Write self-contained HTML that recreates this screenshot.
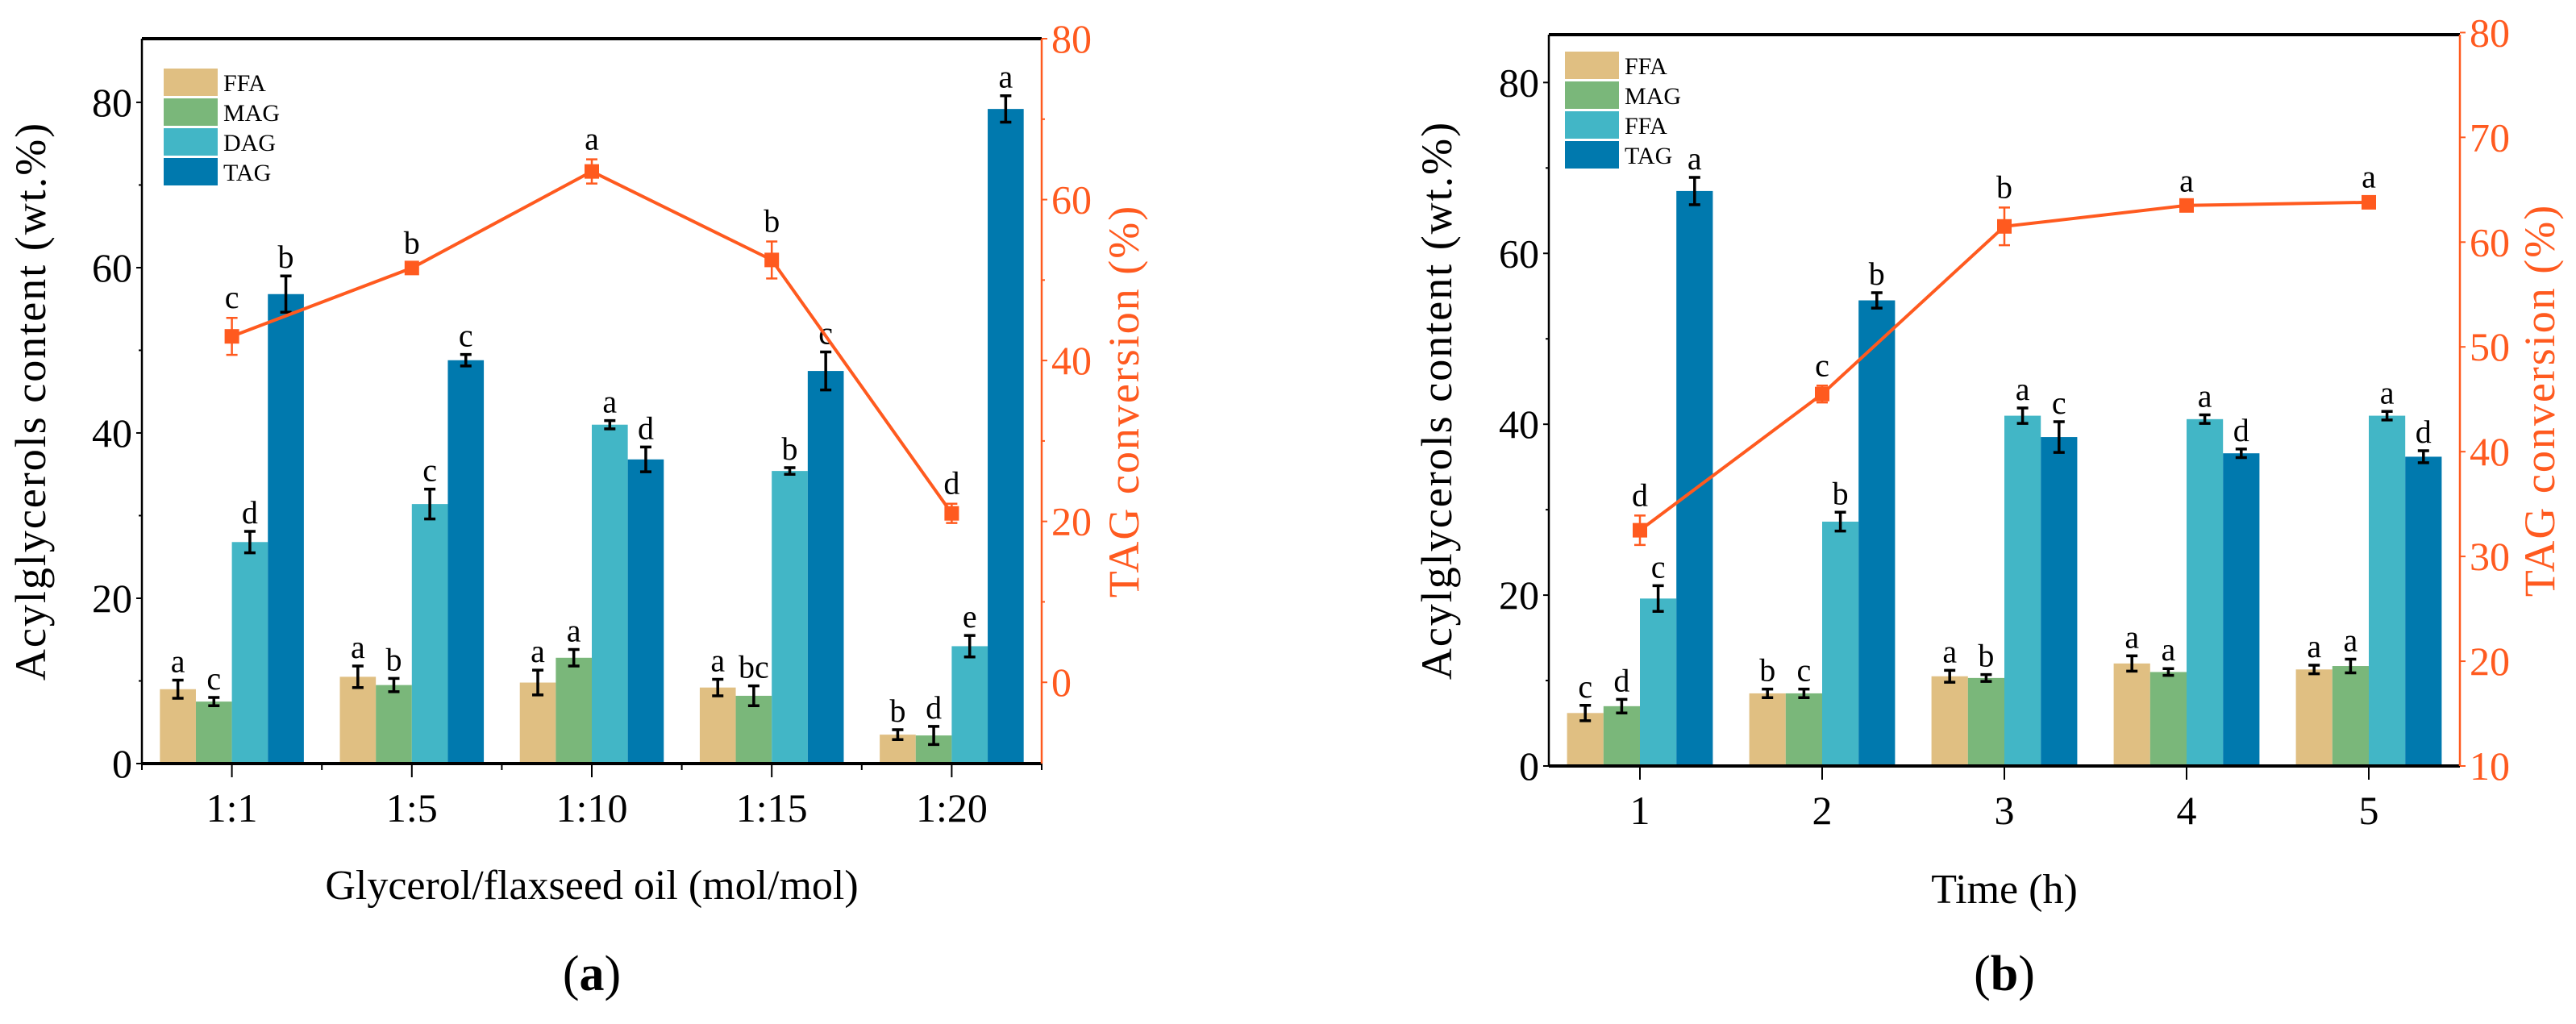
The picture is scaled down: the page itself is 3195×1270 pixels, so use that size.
<!DOCTYPE html>
<html><head><meta charset="utf-8"><style>
body{margin:0;background:#fff}
svg{display:block;font-family:"Liberation Serif",serif}
svg text{font-family:"Liberation Serif",serif}
</style></head><body>
<svg id="fig" width="3195" height="1270" viewBox="0 0 3195 1270" font-family="Liberation Serif, serif"></svg>
<script>
// Panel (a)
const catsA = ["1:1","1:5","1:10","1:15","1:20"];
const ffaA = [9.0,10.5,9.8,9.2,3.5];
const ffaErrA = [1.1,1.3,1.5,1.0,0.6];
const ffaLetA = ["a","a","a","a","b"];
const magA = [7.5,9.5,12.8,8.2,3.4];
const magErrA = [0.5,0.8,1.0,1.2,1.1];
const magLetA = ["c","b","a","bc","d"];
const dagA = [26.8,31.4,41.0,35.4,14.2];
const dagErrA = [1.3,1.8,0.5,0.4,1.3];
const dagLetA = ["d","c","a","b","e"];
const tagA = [56.8,48.8,36.8,47.5,79.2];
const tagErrA = [2.2,0.7,1.5,2.3,1.6];
const tagLetA = ["b","c","d","c","a"];
const convA = [43.0,51.5,63.5,52.5,21.0];
const convErrA = [2.3,0.6,1.5,2.3,1.2];
const convLetA = ["c","b","a","b","d"];
const leftTicksA = [0,20,40,60,80];
const rightTicksA = [0,20,40,60,80];
// Panel (b)
const catsB = ["1","2","3","4","5"];
const ffaB = [6.2,8.5,10.5,12.0,11.3];
const ffaErrB = [0.9,0.5,0.7,0.9,0.5];
const ffaLetB = ["c","b","a","a","a"];
const magB = [7.0,8.5,10.3,11.0,11.7];
const magErrB = [0.8,0.5,0.4,0.4,0.8];
const magLetB = ["d","c","b","a","a"];
const dagB = [19.6,28.6,41.0,40.6,41.0];
const dagErrB = [1.5,1.1,0.9,0.5,0.5];
const dagLetB = ["c","b","a","a","a"];
const tagB = [67.3,54.5,38.5,36.6,36.2];
const tagErrB = [1.6,0.9,1.8,0.5,0.7];
const tagLetB = ["a","b","c","d","d"];
const convB = [32.5,45.5,61.5,63.5,63.8];
const convErrB = [1.4,0.8,1.8,0.4,0.5];
const convLetB = ["d","c","b","a","a"];
const leftTicksB = [0,20,40,60,80];
const rightTicksB = [10,20,30,40,50,60,70,80];

const NS="http://www.w3.org/2000/svg";
const svg=document.getElementById('fig');
const COL={ffa:"#e0bf82",mag:"#7ab77a",dag:"#42b6c6",tag:"#0079ae",line:"#ff5a1f"};
const FF='"Liberation Serif", serif';
function mk(tag,attrs,parent,text){const e=document.createElementNS(NS,tag);for(const k in attrs)e.setAttribute(k,attrs[k]);if(tag==='text')e.setAttribute('font-family',FF);if(text!==undefined)e.textContent=text;(parent||svg).appendChild(e);return e;}

function panel(P){
  const g=mk('g',{});
  
  
  const n=P.cats.length, step=(P.x1-P.x0)/n;
  const xc=i=>P.x0+step*(i+0.5);
  const yL=v=>P.y1-(v-P.lmin)/(P.lmax-P.lmin)*(P.y1-P.y0);
  const yR=v=>P.y1-(v-P.rmin)/(P.rmax-P.rmin)*(P.y1-P.y0);
  const bw=step*0.2;
  const series=[[P.ffa,P.ffaE,P.ffaL,COL.ffa,'ffa'],[P.mag,P.magE,P.magL,COL.mag,'mag'],[P.dag,P.dagE,P.dagL,COL.dag,'dag'],[P.tag,P.tagE,P.tagL,COL.tag,'tag']];
  series.forEach((s,si)=>{
    s[0].forEach((v,i)=>{
      const x=xc(i)-2*bw+si*bw;
      const r=mk('rect',{x:x,y:yL(v),width:bw,height:P.y1-yL(v),fill:s[3]},g);
      
      
      const cx=x+bw/2, t=yL(v+s[1][i]), b=yL(v-s[1][i]);
      mk('path',{d:`M${cx},${t}V${b}M${cx-7},${t}H${cx+7}M${cx-7},${b}H${cx+7}`,stroke:'#000','stroke-width':3.5,fill:'none'},g);
      const l=mk('text',{x:cx,y:t-10,'font-size':40,'text-anchor':'middle'},g,s[2][i]);
      
      
    });
  });
  const pts=P.conv.map((v,i)=>xc(i)+','+yR(v)).join(' ');
  const pl=mk('polyline',{points:pts,fill:'none',stroke:COL.line,'stroke-width':4},g);
  
  
  P.conv.forEach((v,i)=>{
    const cx=xc(i),t=yR(v+P.convE[i]),b=yR(v-P.convE[i]);
    mk('path',{d:`M${cx},${t}V${b}M${cx-7},${t}H${cx+7}M${cx-7},${b}H${cx+7}`,stroke:COL.line,'stroke-width':2.5,fill:'none'},g);
    const m=mk('rect',{x:cx-9,y:yR(v)-9,width:18,height:18,fill:COL.line},g);
    
    
    const l=mk('text',{x:cx,y:t-12,'font-size':40,'text-anchor':'middle'},g,P.convL[i]);
    
    
  });
  mk('line',{x1:P.x0,y1:P.y0,x2:P.x0,y2:P.y1,stroke:'#000','stroke-width':2.5},g);
  mk('line',{x1:P.x0,y1:P.y0,x2:P.x1,y2:P.y0,stroke:'#000','stroke-width':4},g);
  mk('line',{x1:P.x0,y1:P.y1,x2:P.x1,y2:P.y1,stroke:'#000','stroke-width':4},g);
  mk('line',{x1:P.x1,y1:P.y0,x2:P.x1,y2:P.y1,stroke:COL.line,'stroke-width':2.5},g);
  P.lt.forEach(v=>{
    mk('line',{x1:P.x0-7,y1:yL(v),x2:P.x0,y2:yL(v),stroke:'#000','stroke-width':2},g);
    const t=mk('text',{x:P.x0-12,y:yL(v)+17,'font-size':50,'text-anchor':'end'},g,v);
    
    
  });
  for(let v=P.lt[0]+10;v<P.lmax;v+=20) mk('line',{x1:P.x0-4,y1:yL(v),x2:P.x0,y2:yL(v),stroke:'#000','stroke-width':2},g);
  P.rt.forEach(v=>{
    mk('line',{x1:P.x1,y1:yR(v),x2:P.x1+7,y2:yR(v),stroke:COL.line,'stroke-width':2},g);
    const t=mk('text',{x:P.x1+12,y:yR(v)+17,'font-size':50,fill:COL.line},g,v);
    
    
  });
  if(P.rminor) for(let v=P.rt[0]+10;v<P.rmax;v+=20) mk('line',{x1:P.x1,y1:yR(v),x2:P.x1+4,y2:yR(v),stroke:COL.line,'stroke-width':2},g);
  P.cats.forEach((c,i)=>{
    mk('line',{x1:xc(i),y1:P.y1,x2:xc(i),y2:P.y1+17,stroke:'#000','stroke-width':2},g);
    const t=mk('text',{x:xc(i),y:P.y1+72,'font-size':50,'text-anchor':'middle'},g,c);
    
    
  });
  if(P.xminor) for(let i=0;i<=n;i++) mk('line',{x1:P.x0+step*i,y1:P.y1,x2:P.x0+step*i,y2:P.y1+8,stroke:'#000','stroke-width':2},g);
  const ly=(P.y0+P.y1)/2;
  let t=mk('text',{x:P.ylx,y:ly,'font-size':54,'text-anchor':'middle',transform:`rotate(-90 ${P.ylx} ${ly})`,'letter-spacing':2},g,'Acylglycerols content (wt.%)');
  
  t=mk('text',{x:P.yrx,y:ly,'font-size':54,'text-anchor':'middle',fill:COL.line,transform:`rotate(-90 ${P.yrx} ${ly})`,'letter-spacing':2},g,'TAG conversion (%)');
  
  t=mk('text',{x:P.xtx,y:P.xty,'font-size':52,'text-anchor':'middle'},g,P.xtitle);
  
  t=mk('text',{x:P.xtx,y:1228,'font-size':62,'text-anchor':'middle'},g);
  t.innerHTML='(<tspan font-weight="bold">'+P.lab+'</tspan>)';
  
  P.leg.forEach((name,i)=>{
    const y=P.legy+i*37;
    const r=mk('rect',{x:P.legx,y:y,width:67,height:34,fill:[COL.ffa,COL.mag,COL.dag,COL.tag][i]},g);
    
    const tt=mk('text',{x:P.legx+74,y:y+28,'font-size':30},g,name);
    
  });
}
panel({id:'panel-a',cats:catsA,x0:176,x1:1292,y0:48,y1:947,lmin:0,lmax:87.7,rmin:-10.1,rmax:80,
  ffa:ffaA,ffaE:ffaErrA,ffaL:ffaLetA,mag:magA,magE:magErrA,magL:magLetA,dag:dagA,dagE:dagErrA,dagL:dagLetA,tag:tagA,tagE:tagErrA,tagL:tagLetA,
  conv:convA,convE:convErrA,convL:convLetA,lt:leftTicksA,rt:rightTicksA,rminor:true,xminor:true,
  ylx:56,yrx:1412,xtx:734,xty:1115,xtitle:'Glycerol/flaxseed oil (mol/mol)',lab:'a',leg:['FFA','MAG','DAG','TAG'],legx:203,legy:85});
panel({id:'panel-b',cats:catsB,x0:1921,x1:3051,y0:43,y1:950,lmin:0,lmax:85.6,rmin:10,rmax:79.8,
  ffa:ffaB,ffaE:ffaErrB,ffaL:ffaLetB,mag:magB,magE:magErrB,magL:magLetB,dag:dagB,dagE:dagErrB,dagL:dagLetB,tag:tagB,tagE:tagErrB,tagL:tagLetB,
  conv:convB,convE:convErrB,convL:convLetB,lt:leftTicksB,rt:rightTicksB,rminor:false,xminor:false,
  ylx:1800,yrx:3168,xtx:2486,xty:1120,xtitle:'Time (h)',lab:'b',leg:['FFA','MAG','FFA','TAG'],legx:1941,legy:64});
</script>
</body></html>
